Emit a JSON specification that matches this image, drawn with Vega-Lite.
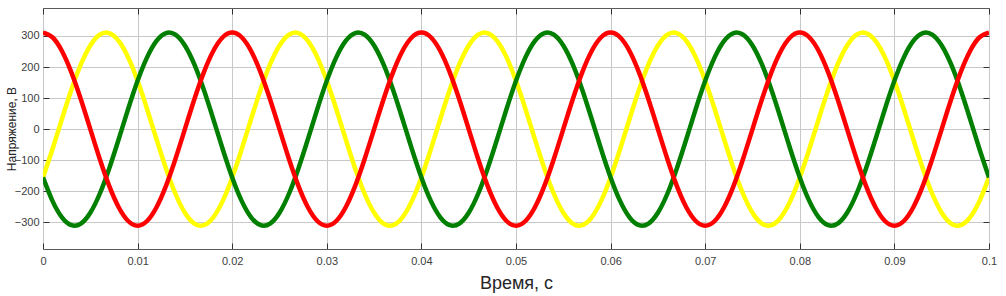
{
  "$schema": "https://vega.github.io/schema/vega-lite/v6.json",
  "width": 946,
  "height": 241,
  "autosize": "none",
  "padding": {"left": 43, "top": 8, "right": 17, "bottom": 47},
  "background": "white",
  "config": {
    "font": "Liberation Sans",
    "view": {"stroke": "#5a5a5a", "strokeWidth": 1}
  },
  "data": {
    "values": [
      {"t":0.000,"R":311,"Y":-155.5,"G":-155.5},
      {"t":0.001,"R":295.8,"Y":-64.7,"G":-231.1},
      {"t":0.002,"R":251.6,"Y":32.5,"G":-284.1},
      {"t":0.003,"R":182.8,"Y":126.5,"G":-309.3},
      {"t":0.004,"R":96.1,"Y":208.1,"G":-304.2},
      {"t":0.005,"R":0,"Y":269.3,"G":-269.3},
      {"t":0.006,"R":-96.1,"Y":304.2,"G":-208.1},
      {"t":0.007,"R":-182.8,"Y":309.3,"G":-126.5},
      {"t":0.008,"R":-251.6,"Y":284.1,"G":-32.5},
      {"t":0.009,"R":-295.8,"Y":231.1,"G":64.7},
      {"t":0.010,"R":-311,"Y":155.5,"G":155.5},
      {"t":0.011,"R":-295.8,"Y":64.7,"G":231.1},
      {"t":0.012,"R":-251.6,"Y":-32.5,"G":284.1},
      {"t":0.013,"R":-182.8,"Y":-126.5,"G":309.3},
      {"t":0.014,"R":-96.1,"Y":-208.1,"G":304.2},
      {"t":0.015,"R":0,"Y":-269.3,"G":269.3},
      {"t":0.016,"R":96.1,"Y":-304.2,"G":208.1},
      {"t":0.017,"R":182.8,"Y":-309.3,"G":126.5},
      {"t":0.018,"R":251.6,"Y":-284.1,"G":32.5},
      {"t":0.019,"R":295.8,"Y":-231.1,"G":-64.7},
      {"t":0.020,"R":311,"Y":-155.5,"G":-155.5},
      {"t":0.021,"R":295.8,"Y":-64.7,"G":-231.1},
      {"t":0.022,"R":251.6,"Y":32.5,"G":-284.1},
      {"t":0.023,"R":182.8,"Y":126.5,"G":-309.3},
      {"t":0.024,"R":96.1,"Y":208.1,"G":-304.2},
      {"t":0.025,"R":0,"Y":269.3,"G":-269.3},
      {"t":0.026,"R":-96.1,"Y":304.2,"G":-208.1},
      {"t":0.027,"R":-182.8,"Y":309.3,"G":-126.5},
      {"t":0.028,"R":-251.6,"Y":284.1,"G":-32.5},
      {"t":0.029,"R":-295.8,"Y":231.1,"G":64.7},
      {"t":0.030,"R":-311,"Y":155.5,"G":155.5},
      {"t":0.031,"R":-295.8,"Y":64.7,"G":231.1},
      {"t":0.032,"R":-251.6,"Y":-32.5,"G":284.1},
      {"t":0.033,"R":-182.8,"Y":-126.5,"G":309.3},
      {"t":0.034,"R":-96.1,"Y":-208.1,"G":304.2},
      {"t":0.035,"R":0,"Y":-269.3,"G":269.3},
      {"t":0.036,"R":96.1,"Y":-304.2,"G":208.1},
      {"t":0.037,"R":182.8,"Y":-309.3,"G":126.5},
      {"t":0.038,"R":251.6,"Y":-284.1,"G":32.5},
      {"t":0.039,"R":295.8,"Y":-231.1,"G":-64.7},
      {"t":0.040,"R":311,"Y":-155.5,"G":-155.5},
      {"t":0.041,"R":295.8,"Y":-64.7,"G":-231.1},
      {"t":0.042,"R":251.6,"Y":32.5,"G":-284.1},
      {"t":0.043,"R":182.8,"Y":126.5,"G":-309.3},
      {"t":0.044,"R":96.1,"Y":208.1,"G":-304.2},
      {"t":0.045,"R":0,"Y":269.3,"G":-269.3},
      {"t":0.046,"R":-96.1,"Y":304.2,"G":-208.1},
      {"t":0.047,"R":-182.8,"Y":309.3,"G":-126.5},
      {"t":0.048,"R":-251.6,"Y":284.1,"G":-32.5},
      {"t":0.049,"R":-295.8,"Y":231.1,"G":64.7},
      {"t":0.050,"R":-311,"Y":155.5,"G":155.5},
      {"t":0.051,"R":-295.8,"Y":64.7,"G":231.1},
      {"t":0.052,"R":-251.6,"Y":-32.5,"G":284.1},
      {"t":0.053,"R":-182.8,"Y":-126.5,"G":309.3},
      {"t":0.054,"R":-96.1,"Y":-208.1,"G":304.2},
      {"t":0.055,"R":0,"Y":-269.3,"G":269.3},
      {"t":0.056,"R":96.1,"Y":-304.2,"G":208.1},
      {"t":0.057,"R":182.8,"Y":-309.3,"G":126.5},
      {"t":0.058,"R":251.6,"Y":-284.1,"G":32.5},
      {"t":0.059,"R":295.8,"Y":-231.1,"G":-64.7},
      {"t":0.060,"R":311,"Y":-155.5,"G":-155.5},
      {"t":0.061,"R":295.8,"Y":-64.7,"G":-231.1},
      {"t":0.062,"R":251.6,"Y":32.5,"G":-284.1},
      {"t":0.063,"R":182.8,"Y":126.5,"G":-309.3},
      {"t":0.064,"R":96.1,"Y":208.1,"G":-304.2},
      {"t":0.065,"R":0,"Y":269.3,"G":-269.3},
      {"t":0.066,"R":-96.1,"Y":304.2,"G":-208.1},
      {"t":0.067,"R":-182.8,"Y":309.3,"G":-126.5},
      {"t":0.068,"R":-251.6,"Y":284.1,"G":-32.5},
      {"t":0.069,"R":-295.8,"Y":231.1,"G":64.7},
      {"t":0.070,"R":-311,"Y":155.5,"G":155.5},
      {"t":0.071,"R":-295.8,"Y":64.7,"G":231.1},
      {"t":0.072,"R":-251.6,"Y":-32.5,"G":284.1},
      {"t":0.073,"R":-182.8,"Y":-126.5,"G":309.3},
      {"t":0.074,"R":-96.1,"Y":-208.1,"G":304.2},
      {"t":0.075,"R":0,"Y":-269.3,"G":269.3},
      {"t":0.076,"R":96.1,"Y":-304.2,"G":208.1},
      {"t":0.077,"R":182.8,"Y":-309.3,"G":126.5},
      {"t":0.078,"R":251.6,"Y":-284.1,"G":32.5},
      {"t":0.079,"R":295.8,"Y":-231.1,"G":-64.7},
      {"t":0.080,"R":311,"Y":-155.5,"G":-155.5},
      {"t":0.081,"R":295.8,"Y":-64.7,"G":-231.1},
      {"t":0.082,"R":251.6,"Y":32.5,"G":-284.1},
      {"t":0.083,"R":182.8,"Y":126.5,"G":-309.3},
      {"t":0.084,"R":96.1,"Y":208.1,"G":-304.2},
      {"t":0.085,"R":0,"Y":269.3,"G":-269.3},
      {"t":0.086,"R":-96.1,"Y":304.2,"G":-208.1},
      {"t":0.087,"R":-182.8,"Y":309.3,"G":-126.5},
      {"t":0.088,"R":-251.6,"Y":284.1,"G":-32.5},
      {"t":0.089,"R":-295.8,"Y":231.1,"G":64.7},
      {"t":0.090,"R":-311,"Y":155.5,"G":155.5},
      {"t":0.091,"R":-295.8,"Y":64.7,"G":231.1},
      {"t":0.092,"R":-251.6,"Y":-32.5,"G":284.1},
      {"t":0.093,"R":-182.8,"Y":-126.5,"G":309.3},
      {"t":0.094,"R":-96.1,"Y":-208.1,"G":304.2},
      {"t":0.095,"R":0,"Y":-269.3,"G":269.3},
      {"t":0.096,"R":96.1,"Y":-304.2,"G":208.1},
      {"t":0.097,"R":182.8,"Y":-309.3,"G":126.5},
      {"t":0.098,"R":251.6,"Y":-284.1,"G":32.5},
      {"t":0.099,"R":295.8,"Y":-231.1,"G":-64.7},
      {"t":0.100,"R":311,"Y":-155.5,"G":-155.5}
    ]
  },
  "transform": [{"fold": ["Y", "G", "R"], "as": ["phase", "v"]}],
  "layer": [
    {
      "mark": {"type": "line", "interpolate": "natural", "strokeWidth": 4.5, "clip": true},
      "encoding": {
        "x": {
          "field": "t", "type": "quantitative",
          "scale": {"domain": [0, 0.1], "nice": false, "zero": false},
          "axis": {
            "orient": "bottom",
            "values": [0, 0.01, 0.02, 0.03, 0.04, 0.05, 0.06, 0.07, 0.08, 0.09, 0.1],
            "format": ".2~f",
            "title": "Время, с",
            "titleFontSize": 18, "titleFontWeight": "normal", "titleColor": "#262626",
            "titlePadding": 8,
            "labelFontSize": 11, "labelColor": "#404040", "labelPadding": 12,
            "labelFlush": false,
            "tickSize": -6, "tickColor": "#333333",
            "domain": false,
            "grid": true, "gridColor": "#c8c8c8", "gridWidth": 1
          }
        },
        "y": {
          "field": "v", "type": "quantitative",
          "scale": {"domain": [-386, 390], "nice": false, "zero": false},
          "axis": {
            "orient": "left",
            "values": [-300, -200, -100, 0, 100, 200, 300],
            "title": "Напряжение, В",
            "titleFontSize": 12, "titleFontWeight": "normal", "titleColor": "#262626",
            "titlePadding": -4,
            "labelFontSize": 11, "labelColor": "#404040", "labelPadding": 10,
            "tickSize": -6, "tickColor": "#333333",
            "domain": false,
            "grid": true, "gridColor": "#c8c8c8", "gridWidth": 1
          }
        },
        "color": {
          "field": "phase", "type": "nominal",
          "scale": {"domain": ["Y", "G", "R"], "range": ["#ffff00", "#007f00", "#ff0000"]},
          "legend": null
        }
      }
    },
    {
      "mark": {"type": "line", "opacity": 0},
      "encoding": {
        "x": {
          "field": "t", "type": "quantitative",
          "axis": {
            "orient": "top",
            "values": [0, 0.01, 0.02, 0.03, 0.04, 0.05, 0.06, 0.07, 0.08, 0.09, 0.1],
            "labels": false, "title": null, "grid": false, "domain": false,
            "tickSize": -6, "tickColor": "#333333"
          }
        },
        "y": {
          "field": "v", "type": "quantitative",
          "axis": {
            "orient": "right",
            "values": [-300, -200, -100, 0, 100, 200, 300],
            "labels": false, "title": null, "grid": false, "domain": false,
            "tickSize": -6, "tickColor": "#333333"
          }
        },
        "detail": {"field": "phase"}
      }
    }
  ]
}
